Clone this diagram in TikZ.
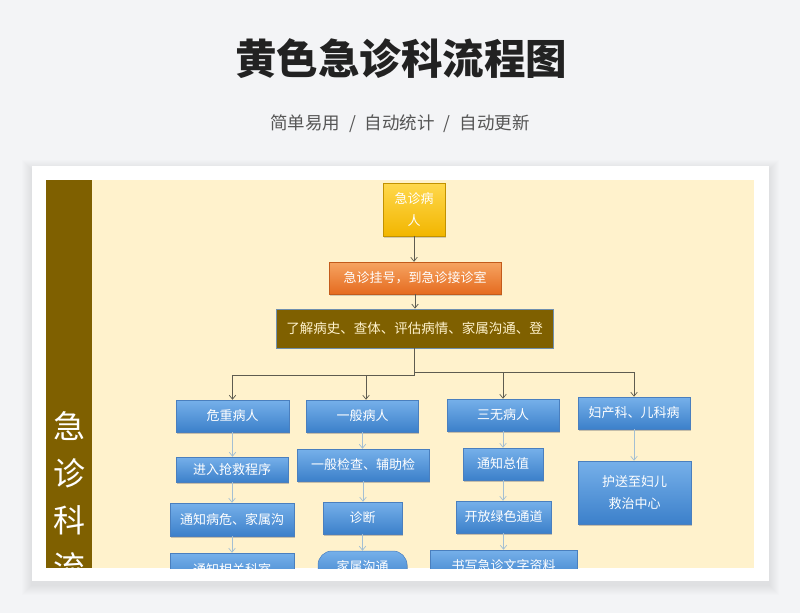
\documentclass[tikz,border=0pt]{standalone}
\usepackage{fontspec}
\setmainfont{Noto Sans CJK SC}
\usetikzlibrary{arrows.meta,shadows,calc}
\definecolor{bgc}{HTML}{F3F4F6}
\definecolor{titlecol}{HTML}{222222}
\definecolor{subcol}{HTML}{555555}
\definecolor{creamc}{HTML}{FFF2CC}
\definecolor{sidec}{HTML}{7F6000}
\definecolor{bluetop}{HTML}{76B0EA}
\definecolor{bluebot}{HTML}{3C80CA}
\definecolor{blueedge}{HTML}{4A7FBE}
\definecolor{yeltop}{HTML}{FFD84D}
\definecolor{yelbot}{HTML}{F2B600}
\definecolor{orgtop}{HTML}{F6A461}
\definecolor{orgbot}{HTML}{E56B20}
\definecolor{mainln}{HTML}{5E5C50}
\definecolor{lightln}{HTML}{A3BFD3}
\definecolor{n3edge}{HTML}{6F8FAE}
\definecolor{n3text}{HTML}{FFF2CC}
\tikzset{
  basebox/.style={inner sep=0pt, align=center, text=white,
    font=\fontsize{13}{22}\selectfont},
  bluebox/.style={basebox, draw=blueedge, line width=0.5pt,
    top color=bluetop, bottom color=bluebot,
    drop shadow={opacity=0.45, shadow xshift=0.8pt, shadow yshift=-2pt}},
  yelbox/.style={basebox, draw=yelbot!80!black, line width=0.4pt,
    top color=yeltop, bottom color=yelbot,
    drop shadow={opacity=0.35, shadow xshift=0.8pt, shadow yshift=-2pt}},
  orgbox/.style={basebox, draw=orgbot!85!black, line width=0.4pt,
    top color=orgtop, bottom color=orgbot,
    drop shadow={opacity=0.35, shadow xshift=0.8pt, shadow yshift=-2pt}},
  brownbox/.style={basebox, fill=sidec, draw=n3edge, line width=0.8pt,
    text=n3text, font=\fontsize{13.5}{16}\selectfont},
  mainarrow/.style={draw=mainln, line width=0.7pt,
    -{Straight Barb[length=4pt,width=6.5pt]}},
  lightarrow/.style={draw=lightln, line width=0.7pt,
    -{Straight Barb[length=4pt,width=6.5pt]}},
  sidetxt/.style={text=white, font=\fontsize{32}{32}\selectfont, inner sep=0pt},
}
\begin{document}
\begin{tikzpicture}[x=1pt,y=-1pt]
\useasboundingbox (0,0) rectangle (800,613);
\fill[bgc] (0,0) rectangle (800,613);
% title
\node[font=\fontsize{41.5}{41}\selectfont\bfseries, text=titlecol] (title) at (401,59) {黄色急诊科流程图};
\node[font=\fontsize{17.5}{17}\selectfont, text=subcol] (sub) at (400,124) {简单易用\hspace{9pt}/\hspace{9pt}自动统计\hspace{9pt}/\hspace{9pt}自动更新};
% card shadow
\foreach \i in {1,...,10}{
  \fill[black, opacity=0.008] ({32-\i},{166-\i+4}) rectangle ({769+\i},{581+\i+4});
}
\fill[white] (32,166) rectangle (769,581);
\fill[creamc] (46,180) rectangle (754,568);
\begin{scope}
\clip (46,180) rectangle (754,568);
\fill[sidec] (46,180) rectangle (92,568);
\node[sidetxt] (s1) at (69,426) {急};
\node[sidetxt] (s2) at (69,473) {诊};
\node[sidetxt] (s3) at (69,520) {科};
\node[sidetxt] (s4) at (69,567) {流};
% top chain
\node[yelbox, minimum width=62pt, minimum height=53pt] (n1) at (414,209.5) {急诊病\\人};
\node[orgbox, minimum width=172pt, minimum height=32pt] (n2) at (415,278) {急诊挂号，到急诊接诊室};
\node[brownbox, minimum width=277pt, minimum height=39pt] (n3) at (414.5,328.5) {了解病史、查体、评估病情、家属沟通、登};
% row 1
\node[bluebox, minimum width=113pt, minimum height=32pt] (a1) at (232.5,416) {危重病人};
\node[bluebox, minimum width=112pt, minimum height=32pt] (a2) at (362.5,416) {一般病人};
\node[bluebox, minimum width=112pt, minimum height=32pt] (a3) at (503,415) {三无病人};
\node[bluebox, minimum width=112pt, minimum height=32pt] (a4) at (634,413) {妇产科、儿科病};
% row 2
\node[bluebox, minimum width=112pt, minimum height=25pt] (b1) at (232,469.5) {进入抢救程序};
\node[bluebox, minimum width=132pt, minimum height=32pt] (b2) at (363,465) {一般检查、辅助检};
\node[bluebox, minimum width=80pt, minimum height=32pt] (b3) at (503,464) {通知总值};
\node[bluebox, minimum width=113pt, minimum height=63pt] (b4) at (634.5,492.5) {护送至妇儿\\救治中心};
% row 3
\node[bluebox, minimum width=124pt, minimum height=33pt] (c1) at (232,519.5) {通知病危、家属沟};
\node[bluebox, minimum width=79pt, minimum height=32pt] (c2) at (362.5,518) {诊断};
\node[bluebox, minimum width=95pt, minimum height=32pt] (c3) at (503.5,517) {开放绿色通道};
% row 4
\node[bluebox, minimum width=124pt, minimum height=33pt] (d1) at (232,569.5) {通知相关科室};
\node[bluebox, rounded corners=14pt, minimum width=89pt, minimum height=32pt] (d2) at (362.5,567) {家属沟通};
\node[bluebox, minimum width=147pt, minimum height=32pt] (d3) at (503.5,566) {书写急诊文字资料};
% main connectors
\draw[mainarrow] (n1.south) -- (n1.south |- n2.north);
\draw[mainarrow] (n2.south) -- (n2.south |- n3.north);
\draw[mainarrow] (n3.south) -- ++(0,26.5) -| (a1.north);
\draw[mainarrow] (n3.south) ++(0,26.5) -| ([xshift=3.5pt]a2.north);
\draw[mainarrow] (n3.south) ++(0,23.5) -| (a3.north);
\draw[mainarrow] (n3.south) ++(0,23.5) -| (a4.north);
% light connectors
\draw[lightarrow] (a1.south) -- (a1.south |- b1.north);
\draw[lightarrow] (b1.south) -- (b1.south |- c1.north);
\draw[lightarrow] (c1.south) -- (c1.south |- d1.north);
\draw[lightarrow] (a2.south) -- (a2.south |- b2.north);
\draw[lightarrow] (b2.south) -- (b2.south |- c2.north);
\draw[lightarrow] (c2.south) -- (c2.south |- d2.north);
\draw[lightarrow] (a3.south) -- (a3.south |- b3.north);
\draw[lightarrow] (b3.south) -- (b3.south |- c3.north);
\draw[lightarrow] (c3.south) -- (c3.south |- d3.north);
\draw[lightarrow] (a4.south) -- (a4.south |- b4.north);
\end{scope}
\end{tikzpicture}
\end{document}
